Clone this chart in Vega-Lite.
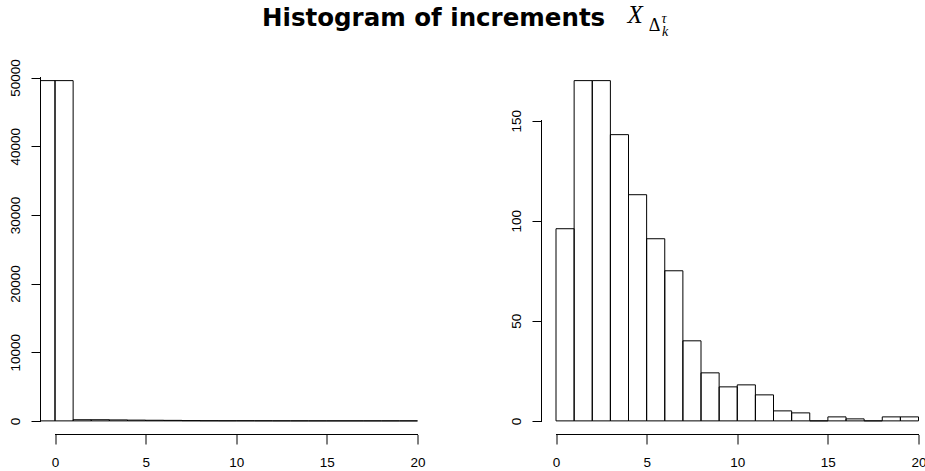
{
  "$schema": "https://vega.github.io/schema/vega-lite/v6.json",
  "background": "white",
  "padding": {"left": 7.5, "top": 2, "right": 0, "bottom": 0},
  "bounds": "flush",
  "spacing": 109,
  "title": {
    "text": "Histogram of increments",
    "font": "DejaVu Sans",
    "fontSize": 24.5,
    "fontWeight": "bold",
    "color": "black",
    "anchor": "start",
    "frame": "group",
    "baseline": "alphabetic",
    "dx": 221.5,
    "offset": -48.4
  },
  "config": {
    "view": {"stroke": null},
    "axis": {
      "domain": false,
      "grid": false,
      "tickColor": "black",
      "tickSize": 9.5,
      "tickWidth": 1,
      "labelFont": "Liberation Sans",
      "labelFontSize": 13.5,
      "labelColor": "black",
      "labelOverlap": false,
      "titleColor": "black",
      "titleFontWeight": "normal"
    }
  },
  "datasets": {
    "all_increments": [
      {"bin_start": -1, "bin_end": 0, "count": 49560},
      {"bin_start": 0, "bin_end": 1, "count": 49560},
      {"bin_start": 1, "bin_end": 2, "count": 170},
      {"bin_start": 2, "bin_end": 3, "count": 170},
      {"bin_start": 3, "bin_end": 4, "count": 143},
      {"bin_start": 4, "bin_end": 5, "count": 113},
      {"bin_start": 5, "bin_end": 6, "count": 91},
      {"bin_start": 6, "bin_end": 7, "count": 75},
      {"bin_start": 7, "bin_end": 8, "count": 40},
      {"bin_start": 8, "bin_end": 9, "count": 24},
      {"bin_start": 9, "bin_end": 10, "count": 17},
      {"bin_start": 10, "bin_end": 11, "count": 18},
      {"bin_start": 11, "bin_end": 12, "count": 13},
      {"bin_start": 12, "bin_end": 13, "count": 5},
      {"bin_start": 13, "bin_end": 14, "count": 4},
      {"bin_start": 14, "bin_end": 15, "count": 0},
      {"bin_start": 15, "bin_end": 16, "count": 2},
      {"bin_start": 16, "bin_end": 17, "count": 1},
      {"bin_start": 17, "bin_end": 18, "count": 0},
      {"bin_start": 18, "bin_end": 19, "count": 2},
      {"bin_start": 19, "bin_end": 20, "count": 2}
    ],
    "positive_increments": [
      {"bin_start": 0, "bin_end": 1, "count": 96},
      {"bin_start": 1, "bin_end": 2, "count": 170},
      {"bin_start": 2, "bin_end": 3, "count": 170},
      {"bin_start": 3, "bin_end": 4, "count": 143},
      {"bin_start": 4, "bin_end": 5, "count": 113},
      {"bin_start": 5, "bin_end": 6, "count": 91},
      {"bin_start": 6, "bin_end": 7, "count": 75},
      {"bin_start": 7, "bin_end": 8, "count": 40},
      {"bin_start": 8, "bin_end": 9, "count": 24},
      {"bin_start": 9, "bin_end": 10, "count": 17},
      {"bin_start": 10, "bin_end": 11, "count": 18},
      {"bin_start": 11, "bin_end": 12, "count": 13},
      {"bin_start": 12, "bin_end": 13, "count": 5},
      {"bin_start": 13, "bin_end": 14, "count": 4},
      {"bin_start": 14, "bin_end": 15, "count": 0},
      {"bin_start": 15, "bin_end": 16, "count": 2},
      {"bin_start": 16, "bin_end": 17, "count": 1},
      {"bin_start": 17, "bin_end": 18, "count": 0},
      {"bin_start": 18, "bin_end": 19, "count": 2},
      {"bin_start": 19, "bin_end": 20, "count": 2}
    ]
  },
  "hconcat": [
    {
      "width": 391.5,
      "height": 367.5,
      "data": {"name": "all_increments"},
      "layer": [
        {
          "mark": {"type": "rect", "fill": "white", "fillOpacity": 0, "stroke": "black", "strokeWidth": 1, "clip": true},
          "encoding": {
            "x": {
              "field": "bin_start", "type": "quantitative",
              "scale": {"domain": [-0.8, 20.8], "nice": false, "zero": false},
              "axis": {
                "values": [0, 5, 10, 15, 20],
                "labelBaseline": "alphabetic",
                "labelAlign": "center",
                "labelFlush": false,
                "labelPadding": 22.3,
                "title": "X",
                "titleFont": "Liberation Serif",
                "titleFontStyle": "italic",
                "titleFontSize": 25,
                "titleAlign": "left",
                "titleBaseline": "alphabetic",
                "titleAngle": 0,
                "titleX": 586.5,
                "titleY": -412.3
              }
            },
            "x2": {"field": "bin_end"},
            "y": {
              "field": "count", "type": "quantitative",
              "scale": {"domain": [-1982.4, 51542.4], "nice": false, "zero": false},
              "axis": {
                "values": [0, 10000, 20000, 30000, 40000, 50000],
                "format": "d",
                "labelAngle": 270,
                "labelAlign": "center",
                "labelBaseline": "alphabetic",
                "labelPadding": 12,
                "title": "τ",
                "titleFont": "Liberation Serif",
                "titleFontStyle": "italic",
                "titleFontSize": 14,
                "titleAlign": "left",
                "titleBaseline": "alphabetic",
                "titleAngle": 0,
                "titleX": 620.5,
                "titleY": -45
              }
            },
            "y2": {"datum": 0}
          }
        },
        {
          "mark": {"type": "rule", "color": "black", "strokeWidth": 1},
          "encoding": {"x": {"datum": 0}, "x2": {"datum": 20}, "y": {"datum": -1982.4}}
        },
        {
          "mark": {"type": "rule", "color": "black", "strokeWidth": 1},
          "encoding": {"x": {"datum": -0.8}, "y": {"datum": 0}, "y2": {"datum": 50000}}
        }
      ]
    },
    {
      "width": 391.5,
      "height": 367.5,
      "data": {"name": "positive_increments"},
      "layer": [
        {
          "mark": {"type": "rect", "fill": "white", "fillOpacity": 0, "stroke": "black", "strokeWidth": 1, "clip": true},
          "encoding": {
            "x": {
              "field": "bin_start", "type": "quantitative",
              "scale": {"domain": [-0.8, 20.8], "nice": false, "zero": false},
              "axis": {
                "values": [0, 5, 10, 15, 20],
                "labelBaseline": "alphabetic",
                "labelAlign": "center",
                "labelFlush": false,
                "labelPadding": 22.3,
                "title": "Δ",
                "titleFont": "Liberation Serif",
                "titleFontSize": 18,
                "titleAlign": "left",
                "titleBaseline": "alphabetic",
                "titleAngle": 0,
                "titleX": 106.8,
                "titleY": -404.3
              }
            },
            "x2": {"field": "bin_end"},
            "y": {
              "field": "count", "type": "quantitative",
              "scale": {"domain": [-6.8, 176.8], "nice": false, "zero": false},
              "axis": {
                "values": [0, 50, 100, 150],
                "labelAngle": 270,
                "labelAlign": "center",
                "labelBaseline": "alphabetic",
                "labelPadding": 12,
                "title": "k",
                "titleFont": "Liberation Serif",
                "titleFontStyle": "italic",
                "titleFontSize": 14,
                "titleAlign": "left",
                "titleBaseline": "alphabetic",
                "titleAngle": 0,
                "titleX": 120,
                "titleY": -31.8
              }
            },
            "y2": {"datum": 0}
          }
        },
        {
          "mark": {"type": "rule", "color": "black", "strokeWidth": 1},
          "encoding": {"x": {"datum": 0}, "x2": {"datum": 20}, "y": {"datum": -6.8}}
        },
        {
          "mark": {"type": "rule", "color": "black", "strokeWidth": 1},
          "encoding": {"x": {"datum": -0.8}, "y": {"datum": 0}, "y2": {"datum": 150}}
        }
      ]
    }
  ]
}
